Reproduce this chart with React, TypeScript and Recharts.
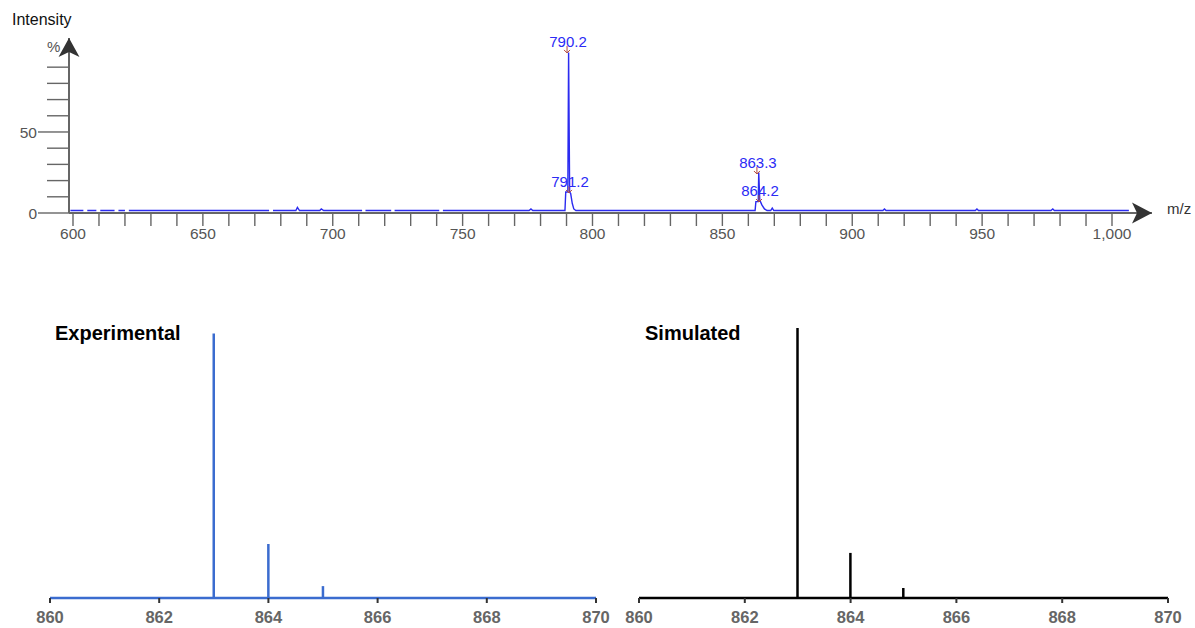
import React from 'react';
import {
  ComposedChart, Line, Scatter, XAxis, YAxis, ReferenceDot, BarChart, Bar,
} from 'recharts';

const FONT = '"Liberation Sans", Arial, sans-serif';

// full scan spectrum (m/z, intensity %), null = gap in trace
const spectrumMz = [
  599, 604, 604.5, 605.5, 609, 609.5, 610.5, 616, 616.5, 617.5, 620, 620.5, 621.5,
  675.5, 676, 677, 685.8, 686.4, 687.2, 695, 695.6, 696.5, 711.3, 711.8, 712.6,
  722.5, 723, 723.8, 741, 741.5, 742.4, 775.6, 776.3, 777,
  789.4, 789.7, 790.5, 790.8, 791.2, 791.6, 792.2, 792.8, 793.6,
  862.6, 862.9, 863.8, 864.0, 864.4, 865.2, 866.2, 867.2, 868.6, 869.2, 869.8,
  911.8, 912.4, 913, 947.4, 948, 948.6, 976.5, 977.2, 977.8, 1006.5,
];
const spectrumInt: (number | null)[] = [
  1.5, 1.5, null, 1.5, 1.5, null, 1.5, 1.5, null, 1.5, 1.5, null, 1.5,
  1.5, null, 1.5, 1.5, 3.5, 1.5, 1.5, 2.5, 1.5, 1.5, null, 1.5,
  1.5, null, 1.5, 1.5, null, 1.5, 1.5, 2.5, 1.5,
  1.5, 13, 13, 99, 13, 12, 6, 2.5, 1.5,
  1.5, 7, 7, 25, 8, 5, 2.5, 1.5, 1.5, 3, 1.5,
  1.5, 2.5, 1.5, 1.5, 2.5, 1.5, 1.5, 2.5, 1.5, 1.5,
];

const labelMz = [790.2, 790.95, 863.3, 864.1];
const labelInt = [99.4, 13, 24.7, 7.4];
const labelText = ['790.2', '791.2', '863.3', '864.2'];

const topXTicks = [
  600, 610, 620, 630, 640, 650, 660, 670, 680, 690, 700, 710, 720, 730, 740, 750,
  760, 770, 780, 790, 800, 810, 820, 830, 840, 850, 860, 870, 880, 890, 900, 910,
  920, 930, 940, 950, 960, 970, 980, 990, 1000,
];
const topYTicks = [0, 10, 20, 30, 40, 50, 60, 70, 80, 90];

// isotope patterns
const isoMz = [863, 864, 865];
const expInt = [98, 20, 4.4];
const simInt = [100, 16.7, 3.7];
const isoTicks = [860, 862, 864, 866, 868, 870];

const spectrum = spectrumMz.map((mz, i) => ({ mz, int: spectrumInt[i] }));
const peakLabels = labelMz.map((mz, i) => ({ mz, int: labelInt[i], text: labelText[i] }));
const expData = isoMz.map((mz, i) => ({ mz, int: expInt[i] }));
const simData = isoMz.map((mz, i) => ({ mz, int: simInt[i] }));

const X_MIN = 598.46;
const X_MAX = 1015.4;
const Y_MAX = 108;

function YTick(props: any) {
  const { x, y, payload } = props;
  const major = payload.value % 50 === 0;
  const len = major ? 31 : 22;
  return (
    <g>
      <line x1={x - len} x2={x} y1={y} y2={y} stroke="#666" strokeWidth={1.4} />
      {major && (
        <text x={x - len - 1} y={y} dy="0.36em" textAnchor="end" fill="#555"
          fontSize={15.5} fontFamily={FONT}>
          {payload.value}
        </text>
      )}
    </g>
  );
}

function PeakLabel(props: any) {
  const { cx, cy, payload } = props;
  return (
    <g>
      <path d={`M${cx},${cy - 6} L${cx},${cy + 1} M${cx - 3},${cy - 2} L${cx},${cy + 1} L${cx + 3},${cy - 2}`}
        stroke="#b34a3a" strokeWidth={1} fill="none" />
      <text x={cx + 1} y={cy - 5} textAnchor="middle" fill="#2b2bf5" fontSize={15} fontFamily={FONT}>
        {payload.text}
      </text>
    </g>
  );
}

const xArrow = (p: any) => (
  <polygon points={`${p.cx},${p.cy} ${p.cx - 20},${p.cy - 10.5} ${p.cx - 15},${p.cy} ${p.cx - 20},${p.cy + 10.5}`}
    fill="#333" />
);
const yArrow = (p: any) => (
  <polygon points={`${p.cx},${p.cy} ${p.cx + 10.5},${p.cy + 19} ${p.cx},${p.cy + 14} ${p.cx - 10.5},${p.cy + 19}`}
    fill="#333" />
);

function IsoChart({ data, color, width, left, right }: {
  data: { mz: number; int: number }[]; color: string; width: number; left: number; right: number;
}) {
  return (
    <BarChart width={width} height={328} data={data}
      margin={{ top: 28, right, left, bottom: 0 }}>
      <XAxis dataKey="mz" type="number" domain={[860, 870]} ticks={isoTicks} interval={0}
        height={30} tickSize={5} tickMargin={8}
        axisLine={{ stroke: color, strokeWidth: 2.5 }}
        tickLine={{ stroke: '#333', strokeWidth: 2 }}
        tick={{ fill: '#666', fontSize: 16.5, fontWeight: 700, fontFamily: FONT }} />
      <YAxis hide domain={[0, 100]} />
      <Bar dataKey="int" fill={color} barSize={2.5} isAnimationActive={false} />
    </BarChart>
  );
}

export default function App() {
  return (
    <div style={{ position: 'absolute', left: 0, top: 0, width: 1195, height: 628, background: '#fff', fontFamily: FONT }}>
      <div style={{ position: 'absolute', left: 0, top: 0 }}>
        <ComposedChart width={1195} height={260} data={spectrum}
          margin={{ top: 38, right: 43, left: 29, bottom: 17 }}>
          <XAxis dataKey="mz" type="number" domain={[X_MIN, X_MAX]}
            ticks={topXTicks} interval={0} height={30} tickSize={13} tickMargin={2}
            axisLine={{ stroke: '#666', strokeWidth: 2 }}
            tickLine={{ stroke: '#666', strokeWidth: 1.4 }}
            tickFormatter={(v: number) => (v % 50 === 0 ? v.toLocaleString('en-US') : '')}
            tick={{ fill: '#555', fontSize: 15.5, fontFamily: FONT }} />
          <YAxis type="number" domain={[0, Y_MAX]} ticks={topYTicks}
            interval={0} width={40} tickSize={0} tickMargin={0} tickLine={false}
            axisLine={{ stroke: '#666', strokeWidth: 2 }} tick={YTick} />
          <Line dataKey="int" type="linear" stroke="#2b2bf0" strokeWidth={1.4} dot={false}
            connectNulls={false} isAnimationActive={false} />
          <Scatter data={peakLabels} dataKey="int" shape={PeakLabel} isAnimationActive={false} />
          <ReferenceDot x={X_MAX} y={0} ifOverflow="visible" shape={xArrow} />
          <ReferenceDot x={X_MIN} y={Y_MAX} ifOverflow="visible" shape={yArrow} />
        </ComposedChart>
      </div>
      <div style={{ position: 'absolute', left: 12, top: 11, fontSize: 16, color: '#111' }}>Intensity</div>
      <div style={{ position: 'absolute', left: 47, top: 38, fontSize: 15, color: '#555' }}>%</div>
      <div style={{ position: 'absolute', left: 1167, top: 200, fontSize: 15, color: '#333' }}>m/z</div>

      <div style={{ position: 'absolute', left: 0, top: 300 }}>
        <IsoChart data={expData} color="#3b6ccf" width={620} left={50} right={24} />
      </div>
      <div style={{ position: 'absolute', left: 600, top: 300 }}>
        <IsoChart data={simData} color="#000" width={595} left={39} right={27} />
      </div>
      <div style={{ position: 'absolute', left: 55, top: 322, fontSize: 20, fontWeight: 700, color: '#000' }}>Experimental</div>
      <div style={{ position: 'absolute', left: 645, top: 322, fontSize: 20, fontWeight: 700, color: '#000' }}>Simulated</div>
    </div>
  );
}
